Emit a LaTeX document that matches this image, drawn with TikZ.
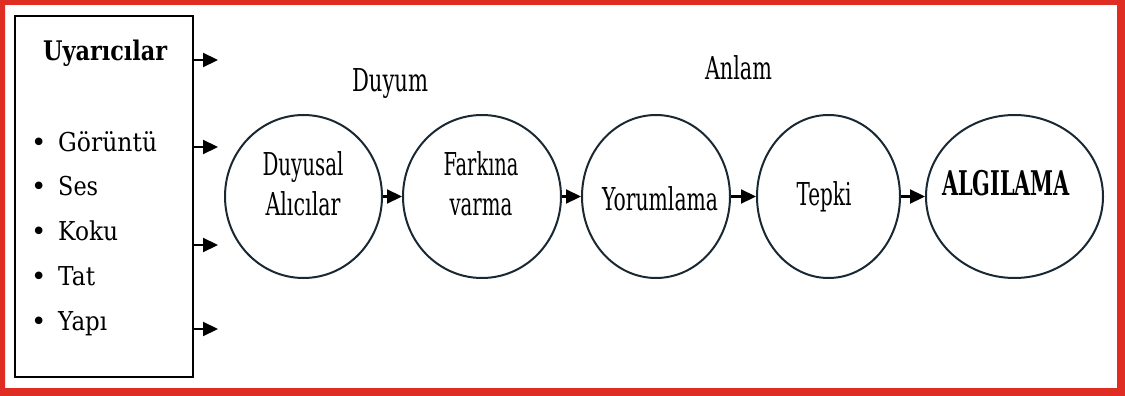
\documentclass[tikz,border=0pt]{standalone}
\usepackage{fontspec}
\setmainfont{DejaVu Serif}
\usetikzlibrary{arrows.meta,shapes.geometric}
\definecolor{framered}{RGB}{224,45,35}
\definecolor{ink}{RGB}{25,40,50}
% set a word at a given width, keeping its natural height
\newcommand\fw[2]{\resizebox{#1pt}{\height}{#2}}
\begin{document}
\begin{tikzpicture}[x=1pt,y=-1pt,
  stage/.style={ellipse, draw=ink, line width=2pt, minimum height=163pt, inner sep=0pt},
  flow/.style={line width=2.2pt, -{Triangle[length=15pt,width=14pt]}},
  boxtext/.style={font=\fontsize{26}{32}\selectfont, inner sep=0pt, anchor=base west},
  circtext/.style={font=\fontsize{31.5}{40}\selectfont, inner sep=0pt, align=center},
]
\useasboundingbox (0,0) rectangle (1125,396);
% red outer frame
\fill[framered, even odd rule] (0,0) rectangle (1125,396) (5,5) rectangle (1117,388);

% stimulus box
\node[draw, line width=1.8pt, minimum width=178pt, minimum height=361pt, inner sep=0pt] (stim) at (104,196.5) {};
\node[boxtext, font=\fontsize{27}{32}\selectfont\bfseries] (head) at (43,60) {\fw{124}{Uyarıcılar}};
\node[boxtext] (i1) at (31,151) {\makebox[27pt][l]{•}\fw{99}{Görüntü}};
\node[boxtext] (i2) at (31,195) {\makebox[27pt][l]{•}\fw{40}{Ses}};
\node[boxtext] (i3) at (31,240) {\makebox[27pt][l]{•}\fw{60}{Koku}};
\node[boxtext] (i4) at (31,285) {\makebox[27pt][l]{•}\fw{37}{Tat}};
\node[boxtext] (i5) at (31,330) {\makebox[27pt][l]{•}\fw{49}{Yapı}};

% arrows leaving the box
\coordinate (s1) at (193,60);  \coordinate (e1) at (218,60);
\coordinate (s2) at (193,147); \coordinate (e2) at (218,147);
\coordinate (s3) at (193,245); \coordinate (e3) at (218,245);
\coordinate (s4) at (193,329); \coordinate (e4) at (218,329);
\foreach \k in {1,...,4} \draw[flow] (s\k) -- (e\k);

% process stages
\node[stage, minimum width=157pt] (c1) at (303.5,196.5) {};
\node[stage, minimum width=158pt] (c2) at (482,196.5) {};
\node[stage, minimum width=148pt] (c3) at (656,196.5) {};
\node[stage, minimum width=143pt] (c4) at (828.5,196.5) {};
\node[stage, minimum width=177pt] (c5) at (1014.5,196.5) {};

\node[circtext] (l1) at (303,183.5) {\fw{81}{Duyusal}\\\fw{75}{Alıcılar}};
\node[circtext] (l2) at (481,184) {\fw{75}{Farkına}\\\fw{63}{varma}};
\node[circtext, anchor=base] (l3) at (660,210) {\fw{116}{Yorumlama}};
\node[circtext, anchor=base] (l4) at (824,205) {\fw{55}{Tepki}};
\node[circtext, anchor=base, font=\fontsize{34}{40}\selectfont\bfseries] (l5) at (1006,195) {\fw{128}{ALGILAMA}};

\node[circtext, anchor=base] (duyum) at (390,92) {\fw{76}{Duyum}};
\node[circtext, anchor=base] (anlam) at (738.5,80) {\fw{67}{Anlam}};

\draw[flow] (c1) -- (c2);
\draw[flow] (c2) -- (c3);
\draw[flow] (c3) -- (c4);
\draw[flow] (c4) -- (c5);
\end{tikzpicture}
\end{document}
